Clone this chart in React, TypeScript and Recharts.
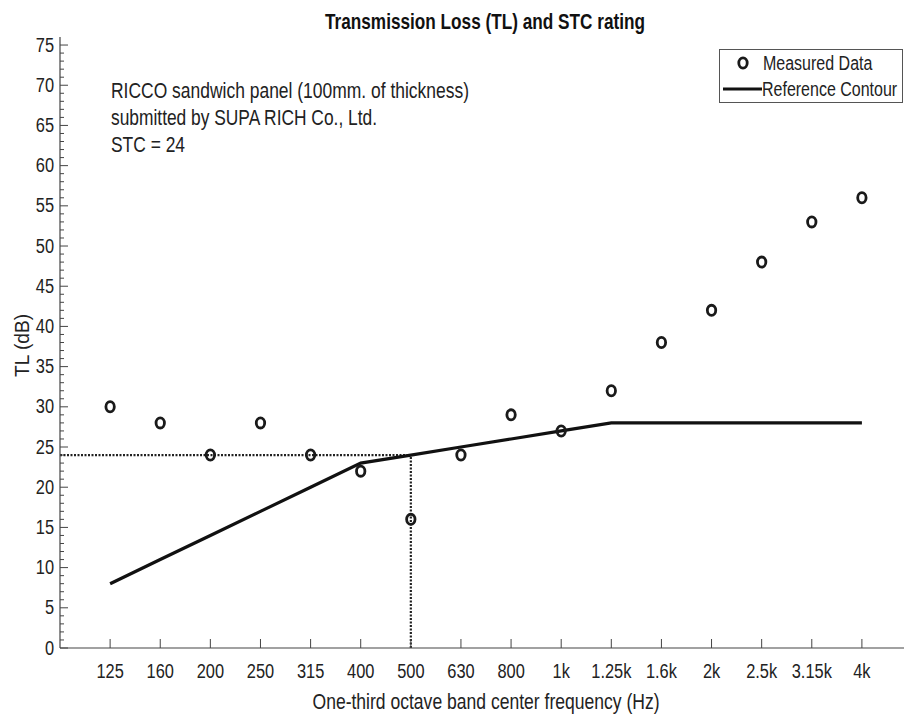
import React from 'react';
import {
  ComposedChart,
  Line,
  Scatter,
  XAxis,
  YAxis,
  ReferenceLine,
  Legend,
  Customized,
} from 'recharts';

const FONT = "'Liberation Sans', Arial, sans-serif";
const SQUEEZE = 0.8;

// One-third octave band centre frequencies
const bands = ['125', '160', '200', '250', '315', '400', '500', '630', '800', '1k', '1.25k', '1.6k', '2k', '2.5k', '3.15k', '4k'];
// Measured transmission loss (dB)
const measuredTL = [30, 28, 24, 28, 24, 22, 16, 24, 29, 27, 32, 38, 42, 48, 53, 56];
// STC reference contour shifted to STC = 24
const referenceContour = [8, 11, 14, 17, 20, 23, 24, 25, 26, 27, 28, 28, 28, 28, 28, 28];
const stcValue = 24;
const stcBandIndex = 6; // 500 Hz

const yTicks = Array.from({ length: 76 }, (_, i) => i);
const xTicks = bands.map((_, i) => i);

const data = bands.map((b, i) => ({ idx: i, band: b, tl: measuredTL[i], ref: referenceContour[i] }));

const AXIS_COLOR = '#444';
const TEXT_COLOR = '#222';

const NText = (props: any) => {
  const { x, y, anchor = 'start', size = 19.5, weight = 'normal', children, rotate = 0 } = props;
  return (
    <text
      transform={`translate(${x},${y}) rotate(${rotate}) scale(${SQUEEZE},1)`}
      textAnchor={anchor}
      fontFamily={FONT}
      fontSize={size}
      fontWeight={weight}
      fill={TEXT_COLOR}
    >
      {children}
    </text>
  );
};

const BottomTick = (props: any) => {
  const { x, y, payload } = props;
  return (
    <g>
      <line x1={x} y1={y} x2={x} y2={y - 9} stroke={AXIS_COLOR} strokeWidth={1} />
      <NText x={x} y={y + 29.5} anchor="middle" size={20.5}>
        {bands[payload.value]}
      </NText>
    </g>
  );
};

const TopTick = (props: any) => {
  const { x, y } = props;
  return <line x1={x} y1={y} x2={x} y2={y + 9} stroke={AXIS_COLOR} strokeWidth={1} />;
};

const LeftTick = (props: any) => {
  const { x, y, payload } = props;
  const major = payload.value % 5 === 0;
  return (
    <g>
      <line x1={x} y1={y} x2={x + (major ? 8 : 4)} y2={y} stroke={AXIS_COLOR} strokeWidth={1} />
      {major && (
        <NText x={x - 6} y={y + 6.5} anchor="end" size={20.5}>
          {payload.value}
        </NText>
      )}
    </g>
  );
};

const CircleMarker = (props: any) => {
  const { cx, cy } = props;
  if (cx == null || cy == null) return null;
  return <ellipse cx={cx} cy={cy} rx={4.2} ry={5.1} fill="none" stroke="#1a1a1a" strokeWidth={2.8} />;
};

const LegendBox = () => (
  <svg width={185} height={55} style={{ display: 'block' }}>
    <rect x={0.5} y={0.5} width={183} height={53} fill="#fff" stroke="#555" strokeWidth={1} />
    <ellipse cx={24} cy={14} rx={4.2} ry={5.1} fill="none" stroke="#1a1a1a" strokeWidth={2.8} />
    <NText x={44} y={20.5} size={20}>Measured Data</NText>
    <line x1={4} y1={40} x2={43} y2={40} stroke="#111" strokeWidth={3} />
    <NText x={43} y={46.5} size={20}>Reference Contour</NText>
  </svg>
);

const Overlay = () => (
  <g>
    <text
      x={485}
      y={29}
      textAnchor="middle"
      fontFamily={FONT}
      fontWeight="bold"
      fontSize={22}
      fill="#111"
      textLength={320}
      lengthAdjust="spacingAndGlyphs"
    >
      Transmission Loss (TL) and STC rating
    </text>
    <text x={111} y={98} fontFamily={FONT} fontSize={21.5} fill={TEXT_COLOR} textLength={358} lengthAdjust="spacingAndGlyphs">
      RICCO sandwich panel (100mm. of thickness)
    </text>
    <text x={111} y={125} fontFamily={FONT} fontSize={21.5} fill={TEXT_COLOR} textLength={266} lengthAdjust="spacingAndGlyphs">
      submitted by SUPA RICH Co., Ltd.
    </text>
    <text x={111} y={152} fontFamily={FONT} fontSize={21.5} fill={TEXT_COLOR} textLength={74} lengthAdjust="spacingAndGlyphs">
      {`STC = ${stcValue}`}
    </text>
  </g>
);

export default function App() {
  return (
    <div style={{ position: 'absolute', left: 0, top: 0, width: 904, height: 717, background: '#fff' }}>
      <ComposedChart
        width={904}
        height={717}
        data={data}
        margin={{ top: 37, right: 0, bottom: 0, left: 0 }}
      >
        <XAxis
          xAxisId="bottom"
          dataKey="idx"
          type="number"
          domain={[-1, 15.84]}
          ticks={xTicks}
          interval={0}
          allowDataOverflow
          height={69}
          tickSize={0}
          tickMargin={0}
          tickLine={false}
          axisLine={{ stroke: AXIS_COLOR, strokeWidth: 1.2 }}
          tick={<BottomTick />}
          label={{
            content: (p: any) => {
              const vb = p.viewBox || { x: 60, y: 648, width: 844, height: 69 };
              return (
                <text
                  x={vb.x + vb.width / 2 + 4}
                  y={vb.y + 61}
                  textAnchor="middle"
                  fontFamily={FONT}
                  fontSize={22}
                  fill={TEXT_COLOR}
                  textLength={347}
                  lengthAdjust="spacingAndGlyphs"
                >
                  One-third octave band center frequency (Hz)
                </text>
              );
            },
          }}
        />
        <XAxis
          xAxisId="top"
          orientation="top"
          dataKey="idx"
          type="number"
          domain={[-1, 15.84]}
          ticks={xTicks}
          interval={0}
          allowDataOverflow
          height={0}
          tickSize={0}
          tickMargin={0}
          tickLine={false}
          axisLine={{ stroke: AXIS_COLOR, strokeWidth: 1.2 }}
          tick={<TopTick />}
        />
        <YAxis
          yAxisId="left"
          type="number"
          domain={[0, 76]}
          ticks={yTicks}
          interval={0}
          allowDataOverflow
          width={60}
          tickSize={0}
          tickMargin={0}
          tickLine={false}
          axisLine={{ stroke: AXIS_COLOR, strokeWidth: 1.2 }}
          tick={<LeftTick />}
          label={{
            content: (p: any) => {
              const vb = p.viewBox || { x: 0, y: 37, width: 60, height: 611 };
              const cx = vb.x + 29;
              const cy = vb.y + vb.height / 2 + 3;
              return (
                <text
                  transform={`translate(${cx},${cy}) rotate(-90)`}
                  textAnchor="middle"
                  fontFamily={FONT}
                  fontSize={21}
                  fill={TEXT_COLOR}
                  textLength={63}
                  lengthAdjust="spacingAndGlyphs"
                >
                  TL (dB)
                </text>
              );
            },
          }}
        />
        <ReferenceLine
          xAxisId="bottom"
          yAxisId="left"
          segment={[{ x: -1, y: stcValue }, { x: stcBandIndex, y: stcValue }]}
          stroke="#222"
          strokeWidth={2.2}
          strokeDasharray="2 1.5"
        />
        <ReferenceLine
          xAxisId="bottom"
          yAxisId="left"
          segment={[{ x: stcBandIndex, y: 0 }, { x: stcBandIndex, y: stcValue }]}
          stroke="#222"
          strokeWidth={2.2}
          strokeDasharray="2 1.5"
        />
        <Line
          xAxisId="bottom"
          yAxisId="left"
          dataKey="ref"
          name="Reference Contour"
          stroke="#111"
          strokeWidth={3.2}
          dot={false}
          activeDot={false}
          type="linear"
          isAnimationActive={false}
        />
        <Scatter
          xAxisId="bottom"
          yAxisId="left"
          dataKey="tl"
          name="Measured Data"
          shape={<CircleMarker />}
          isAnimationActive={false}
        />
        <Legend
          layout="horizontal"
          verticalAlign="middle"
          align="center"
          content={<LegendBox />}
          wrapperStyle={{ position: 'absolute', left: 719, top: 49, width: 185, height: 55 }}
        />
        <Customized component={<Overlay />} />
      </ComposedChart>
    </div>
  );
}
